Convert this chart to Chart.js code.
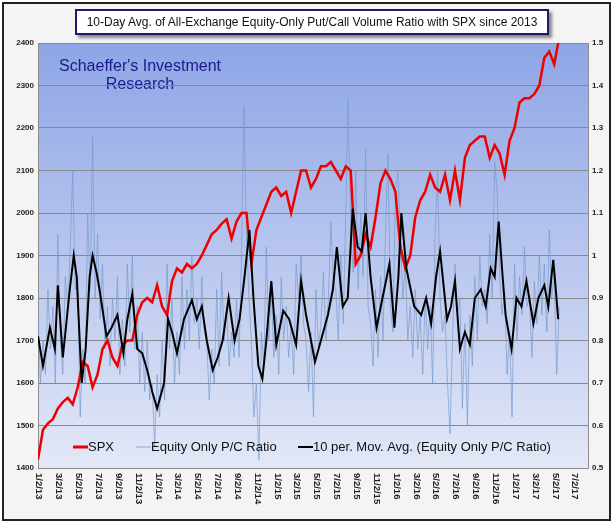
<!DOCTYPE html>
<html><head><meta charset="utf-8">
<script src="https://cdn.jsdelivr.net/npm/chart.js@4"></script>
<style>
html,body{margin:0;padding:0;background:#fff;}
#wrap{position:relative;width:615px;height:525px;}
#frame{position:absolute;left:2px;top:2px;width:609px;height:519px;border:2px solid #222;background:#f4f4f4;box-sizing:border-box;}
canvas{position:absolute;left:0;top:0;}
#title{position:absolute;left:75px;top:9px;width:474px;height:26px;border:2px solid #1a1a6e;background:#fff;box-sizing:border-box;
 font:12px "Liberation Sans",Arial,sans-serif;text-align:center;line-height:22px;color:#111;box-shadow:3px 3px 3px rgba(0,0,0,0.45);}
</style></head>
<body><div id="wrap"><div id="frame"></div><canvas id="c" width="615" height="525"></canvas>
<div id="title">10-Day Avg. of All-Exchange Equity-Only Put/Call Volume Ratio with SPX since 2013</div></div>
<script>
const tickLabels=["1/2/13","3/2/13","5/2/13","7/2/13","9/2/13","11/2/13","1/2/14","3/2/14","5/2/14","7/2/14","9/2/14","11/2/14","1/2/15","3/2/15","5/2/15","7/2/15","9/2/15","11/2/15","1/2/16","3/2/16","5/2/16","7/2/16","9/2/16","11/2/16","1/2/17","3/2/17","5/2/17","7/2/17"];
const spxMonths=[0,0.5,1,1.5,2,2.5,3,3.5,4,4.5,5,5.5,6,6.5,7,7.5,8,8.5,9,9.5,10,10.5,11,11.5,12,12.5,13,13.5,14,14.5,15,15.5,16,16.5,17,17.5,18,18.5,19,19.5,20,20.5,21,21.5,22,22.5,23,23.5,24,24.5,25,25.5,26,26.5,27,27.5,28,28.5,29,29.5,30,30.5,31,31.5,32,32.5,33,33.5,34,34.5,35,35.5,36,36.5,37,37.5,38,38.5,39,39.5,40,40.5,41,41.5,42,42.5,43,43.5,44,44.5,45,45.5,46,46.5,47,47.5,48,48.5,49,49.5,50,50.5,51,51.5,52,52.4];
const spxValues=[1420,1490,1505,1515,1540,1555,1565,1550,1590,1650,1640,1590,1620,1680,1700,1660,1640,1690,1700,1700,1760,1790,1800,1790,1830,1780,1760,1840,1870,1860,1880,1870,1880,1900,1925,1950,1960,1975,1985,1940,1980,2000,2000,1880,1960,1990,2020,2050,2060,2040,2050,2000,2050,2100,2100,2060,2080,2110,2110,2120,2100,2080,2110,2100,1880,1900,1950,1920,1990,2070,2100,2080,2050,1920,1870,1900,1990,2030,2050,2090,2060,2050,2090,2030,2100,2030,2130,2160,2170,2180,2180,2130,2160,2140,2090,2170,2200,2260,2270,2270,2280,2300,2365,2380,2350,2400];
const pcValues=[.86,.70,.80,.72,.92,.78,.88,.70,1.05,.80,.72,.95,.88,1.02,1.20,.92,
.95,.62,.78,.70,1.10,.92,1.28,.90,1.05,.85,.98,.78,.88,.74,.90,.80,
.95,.72,.85,.74,.98,.82,1.00,.78,.88,.70,.82,.68,.80,.66,.70,.55,
.72,.62,.80,.66,.98,.78,.90,.70,.82,.72,.95,.78,.92,.80,1.00,.84,
.90,.78,.95,.82,.80,.66,.78,.70,.92,.74,.96,.80,.88,.74,.82,.76,
.90,.76,1.00,1.35,1.05,.90,.80,.62,.70,.52,.82,.74,1.02,.80,.92,.76,
.86,.72,.95,.80,.88,.76,.84,.72,.98,.90,1.00,.84,.80,.68,.82,.62,
.92,.78,.84,.96,.80,.90,1.08,.94,.92,.80,1.00,.84,1.10,1.37,1.05,.96,
1.20,.92,1.10,.95,1.25,.88,.84,.74,.92,.76,.95,.80,1.05,1.24,.88,.82,
1.15,1.20,1.05,.90,.98,.80,.88,.76,.92,.78,.86,.72,.90,.78,.88,.70,
1.05,1.20,.90,.82,.86,.70,.58,.80,.98,.86,.90,.64,.84,.60,.86,.74,
.95,.80,1.00,.88,.92,.84,1.05,.90,1.22,1.15,.95,.86,.92,.72,.82,.62,
.98,.80,.95,.86,1.02,.88,.90,.76,.94,.84,1.00,.86,.98,.82,1.06,.90,
.96,.72,.88];
const maMonths=[0,.5,1.2,1.7,2,2.5,3.2,3.6,3.9,4.4,4.8,5.2,5.5,5.9,6.2,6.9,7.4,8,8.6,9,9.5,10,10.5,11,11.5,12,12.7,13.1,13.5,14,14.7,15.5,16,16.5,17,17.6,18.1,18.6,19.2,19.8,20.3,20.8,21.3,21.7,22.2,22.6,23,23.5,24,24.7,25.3,26,26.5,27,27.5,27.9,28.5,29.2,29.7,30.1,30.7,31.2,31.7,32.2,32.6,33,33.5,34.1,34.7,35.4,35.9,36.3,36.6,37.1,37.9,38.6,39.1,39.6,40.1,40.5,41.2,41.6,42,42.5,43,43.5,44,44.6,45.1,45.6,46,46.4,46.8,47.1,47.7,48.2,48.7,49.2,49.9,50.4,51,51.4,51.9,52.1,52.4];
const maValues=[.81,.74,.83,.78,.93,.76,.92,1.0,.95,.70,.78,.95,1.0,.96,.92,.81,.83,.86,.77,.85,.91,.78,.77,.73,.68,.64,.70,.85,.82,.77,.85,.895,.85,.88,.80,.73,.76,.80,.90,.80,.85,.95,1.06,.90,.74,.71,.80,.94,.79,.87,.85,.79,.94,.86,.80,.75,.80,.86,.92,1.02,.88,.90,1.11,1.02,1.01,1.10,.95,.83,.90,.98,.83,.95,1.10,.97,.88,.86,.90,.84,.95,1.01,.85,.88,.94,.78,.82,.79,.90,.92,.88,.97,.95,1.08,.95,.86,.78,.90,.88,.94,.84,.90,.93,.88,.99,.935,.85];

const spxData=spxMonths.map((m,i)=>({x:m,y:spxValues[i]}));
const pcData=pcValues.map((v,i)=>({x:i*0.25,y:v}));
const maData=maMonths.map((m,i)=>({x:m,y:maValues[i]}));

const FONT='"Liberation Sans",Arial,sans-serif';
const bgPlugin={id:'bg',beforeDraw(c){const a=c.chartArea,ctx=c.ctx;const g=ctx.createLinearGradient(0,a.top,0,a.bottom);
 g.addColorStop(0,'#8ea5e6');g.addColorStop(1,'#e3e8f7');ctx.save();ctx.fillStyle=g;ctx.fillRect(a.left,a.top,a.right-a.left,a.bottom-a.top);
 ctx.strokeStyle='#8c8c8c';ctx.lineWidth=1;ctx.strokeRect(a.left+0.5,a.top+0.5,a.right-a.left,a.bottom-a.top);
 ctx.fillStyle='#1a1a8c';ctx.font='16px '+FONT;ctx.textAlign='center';ctx.textBaseline='middle';
 ctx.fillText("Schaeffer's Investment",140,67);ctx.fillText('Research',140,85);ctx.restore();},
 afterDraw(c){const a=c.chartArea,ctx=c.ctx,xs=c.scales.x;ctx.save();
 ctx.font='bold 9.5px '+FONT;ctx.fillStyle='#222';ctx.textBaseline='middle';ctx.textAlign='left';
 tickLabels.forEach((t,i)=>{const px=xs.getPixelForValue(i*2);ctx.save();ctx.translate(px+1,a.bottom+5);ctx.rotate(Math.PI/2);ctx.fillText(t,0,0);ctx.restore();});
 const ly=447;ctx.font='13px '+FONT;ctx.fillStyle='#111';
 ctx.lineWidth=3;ctx.strokeStyle='#e00';ctx.beginPath();ctx.moveTo(73,ly);ctx.lineTo(88,ly);ctx.stroke();ctx.fillText('SPX',88,ly);
 ctx.lineWidth=2;ctx.strokeStyle='#b7c8e6';ctx.beginPath();ctx.moveTo(136,ly);ctx.lineTo(151,ly);ctx.stroke();ctx.fillText('Equity Only P/C Ratio',151,ly);
 ctx.lineWidth=2;ctx.strokeStyle='#000';ctx.beginPath();ctx.moveTo(298,ly);ctx.lineTo(313,ly);ctx.stroke();ctx.fillText('10 per. Mov. Avg. (Equity Only P/C Ratio)',313,ly);
 ctx.restore();}};

new Chart(document.getElementById('c'),{type:'line',
 data:{datasets:[
  {label:'SPX',data:spxData,yAxisID:'y',borderColor:'#ee0000',borderWidth:2.5,pointRadius:0,tension:0,order:2},
  {label:'Equity Only P/C Ratio',data:pcData,yAxisID:'y2',borderColor:'rgba(120,155,205,0.7)',borderWidth:1,pointRadius:0,tension:0,order:3},
  {label:'10 per. Mov. Avg. (Equity Only P/C Ratio)',data:maData,yAxisID:'y2',borderColor:'#000',borderWidth:2,pointRadius:0,tension:0,order:1}]},
 options:{responsive:false,animation:false,events:[],
  layout:{padding:{left:4,right:2,top:43,bottom:57}},
  plugins:{legend:{display:false},tooltip:{enabled:false}},
  scales:{
   x:{type:'linear',min:0,max:55.4,display:false},
   y:{position:'left',min:1400,max:2400,afterFit(s){s.width=34;},
     ticks:{stepSize:100,font:{size:8,weight:'bold',family:FONT},color:'#222',padding:4,callback:v=>String(v)},
     grid:{color:'#888',drawTicks:false},border:{display:false}},
   y2:{position:'right',min:0.5,max:1.5,afterFit(s){s.width=25;},
     ticks:{stepSize:0.1,font:{size:8,weight:'bold',family:FONT},color:'#222',padding:4,callback:v=>String(Math.round(v*10)/10)},
     grid:{display:false,drawTicks:false},border:{display:false}}}},
 plugins:[bgPlugin]});
</script></body></html>
